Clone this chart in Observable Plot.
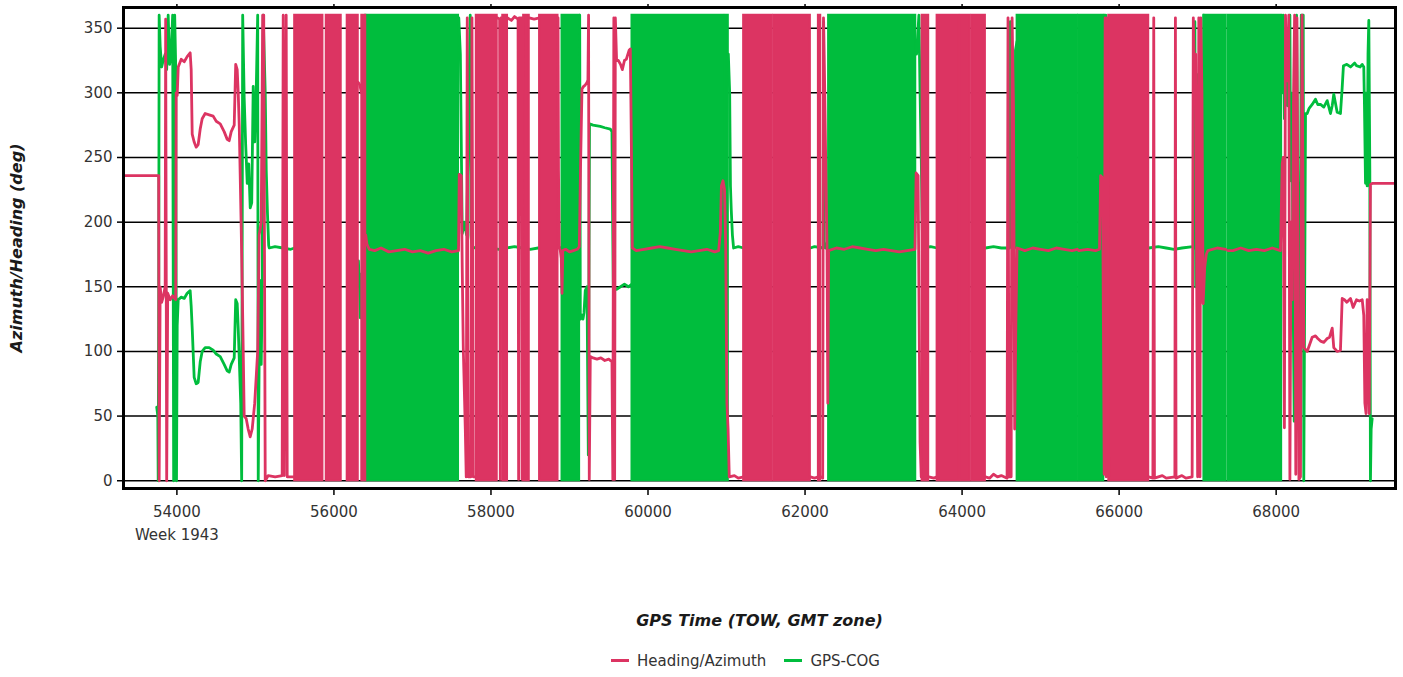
<!DOCTYPE html>
<html><head><meta charset="utf-8">
<script src="https://cdn.jsdelivr.net/npm/d3@7"></script>
<script src="https://cdn.jsdelivr.net/npm/@observablehq/plot@0.6"></script>
<style>
body{margin:0;background:#fff;font-family:"DejaVu Sans",sans-serif;}
#chart svg{display:block;}
g[aria-label="x-axis label"] text, g[aria-label="y-axis label"] text{font-weight:bold;font-style:italic;font-size:16px;fill:#1a1a1a;}
.legend{display:flex;justify-content:center;gap:18px;margin-top:11px;height:20px;line-height:20px;font-size:15px;color:#333;padding-left:88px;}
.legend .sw{display:inline-block;width:18px;height:3px;vertical-align:middle;margin-right:8px;position:relative;top:-1px;}
</style></head>
<body><div id="chart"></div><div class="legend" id="legend"></div>
<script>
const seriesNames = ["Heading/Azimuth", "GPS-COG"];
const seriesColors = ["#dc3462", "#00bd3d"];
const xTicks = [54000, 56000, 58000, 60000, 62000, 64000, 66000, 68000];
const xTickLabels = ["54000", "56000", "58000", "60000", "62000", "64000", "66000", "68000"];
const weekLabel = [[54000, "Week 1943"]];
const yTicks = [0, 50, 100, 150, 200, 250, 300, 350];
const xDomain = [53320, 69520];
const yDomain = [-6, 366];
const wrapRange = [0, 360];

// dense 0/360 oscillation intervals [start, end] (TOW s)
const headingBlocks = [[55500,55860],[55902,56093],[56169,56310],[56355,56405],[57813,58080],[58150,58211],[58416,58488],[58619,58854],[61218,61580],[61600,62068],[62170,62200],[63491,63575],[63682,63957],[63979,64106],[64128,64297],[65868,66377]];
const cogBlocks = [[56405,57587],[58905,59129],[59796,60963],[60985,61023],[62300,63410],[64701,65469],[65486,65805],[67080,67360],[67385,68070]];

// [TOW, deg]; null = gap
const heading = [
[53320,236],[53768,236],[53774,0],[53787,150],[53806,138],[53825,142],[53851,150],[53857,357],[53870,0],[53883,145],[53915,140],[53946,143],[53985,140],[53991,300],[54004,298],[54017,320],[54055,326],[54093,324],[54131,328],[54169,331],[54182,318],[54195,268],[54220,262],[54246,258],[54271,260],[54297,272],[54322,280],[54360,284],[54411,283],[54462,282],[54501,278],[54552,276],[54602,270],[54641,264],[54666,263],[54692,270],[54730,275],[54749,322],[54768,318],[54781,300],[54794,275],[54806,237],[54819,196],[54832,150],[54845,100],[54857,50],[54883,48],[54908,40],[54934,34],[54959,40],[54991,60],[55029,100],[55048,190],[55074,200],[55093,360],[55106,360],[55125,0],[55163,4],[55252,3],[55341,4],[55354,360],[55367,4],[55392,360],[55405,3],[55500,3],[55501,null],
[56310,308],[56330,306],[56350,300],[56352,null],
[56405,190],[56420,183],[56450,179],[56520,178],[56600,180],[56700,177],[56800,178],[56900,179],[57000,177],[57100,178],[57200,176],[57300,178],[57400,179],[57500,177],[57587,178],[57596,237],[57622,236],[57634,165],[57647,104],[57673,40],[57685,3],[57698,358],[57711,3],[57745,3],[57758,358],[57775,3],[57812,3],[57813,null],
[58080,358],[58110,357],[58119,1],[58128,358],[58149,358],[58150,null],
[58211,358],[58260,356],[58300,359],[58345,357],[58352,1],[58360,358],[58390,358],[58396,1],[58404,358],[58415,358],[58416,null],
[58488,358],[58550,357],[58618,358],[58619,null],
[58854,358],[58860,240],[58870,180],[58883,178],[58895,172],[58905,145],[58915,178],[58950,179],[59000,177],[59050,178],[59100,179],[59125,181],[59140,240],[59159,303],[59180,305],[59201,306],[59223,308],[59235,310],[59243,360],[59252,1],[59265,96],[59300,95],[59350,94],[59400,95],[59450,93],[59500,94],[59541,92],[59552,1],[59565,358],[59575,1],[59584,358],[59600,325],[59622,325],[59650,322],[59673,318],[59700,325],[59724,326],[59760,333],[59775,334],[59790,250],[59800,180],[59850,178],[59950,179],[60050,180],[60150,181],[60250,180],[60350,179],[60450,178],[60550,177],[60650,178],[60750,179],[60850,177],[60900,178],[60921,192],[60935,228],[60955,232],[60975,225],[60990,180],[61005,60],[61020,40],[61035,3],[61100,4],[61150,2],[61217,3],[61218,null],
[62068,3],[62120,2],[62169,3],[62170,null],
[62200,3],[62225,2],[62235,358],[62250,305],[62265,240],[62280,180],[62290,60],[62300,178],[62400,180],[62500,179],[62600,181],[62700,180],[62800,179],[62900,178],[63000,179],[63100,178],[63200,177],[63300,178],[63400,179],[63415,238],[63440,236],[63450,150],[63465,30],[63480,3],[63490,3],[63491,null],
[63575,3],[63640,2],[63681,3],[63682,null],
[64297,3],[64350,2],[64400,5],[64450,3],[64500,4],[64573,2],[64585,358],[64597,3],[64625,3],[64637,358],[64655,290],[64670,40],[64685,120],[64700,180],[64800,178],[64900,180],[65000,179],[65100,178],[65200,180],[65300,179],[65400,178],[65468,179],[65477,null],[65486,178],[65600,179],[65700,178],[65750,179],[65765,236],[65790,234],[65800,120],[65810,5],[65822,358],[65835,3],[65850,358],[65867,3],[65868,null],
[66377,3],[66430,2],[66441,358],[66450,2],[66550,4],[66600,2],[66710,3],[66717,358],[66725,2],[66800,4],[66850,2],[66930,3],[66945,358],[66960,310],[66975,330],[66990,134],[67000,3],[67015,358],[67030,3],[67040,358],[67055,300],[67070,137],[67090,165],[67110,175],[67130,178],[67250,180],[67359,179],[67372,null],[67385,178],[67450,178],[67550,180],[67650,178],[67750,179],[67850,178],[67950,180],[68055,178],[68077,245],[68090,250],[68105,41],[68119,360],[68135,320],[68150,309],[68161,360],[68175,1],[68190,200],[68205,140],[68220,290],[68235,360],[68250,5],[68265,358],[68290,1],[68310,3],[68330,360],[68352,103],[68395,100],[68430,106],[68459,111],[68501,112],[68530,110],[68565,108],[68607,107],[68650,110],[68680,111],[68714,118],[68734,103],[68777,100],[68819,101],[68841,141],[68870,140],[68900,138],[68947,141],[68980,134],[69023,140],[69060,139],[69096,140],[69116,128],[69130,60],[69145,52],[69159,140],[69170,90],[69185,52],[69201,229],[69223,230],[69520,230]
];

const cog = [
[53743,57],[53757,50],[53762,0],[53769,150],[53774,360],[53787,336],[53806,320],[53825,325],[53851,330],[53870,318],[53889,360],[53908,322],[53927,330],[53946,360],[53959,0],[53972,360],[53985,320],[53995,0],[54004,120],[54017,140],[54055,142],[54093,141],[54131,145],[54169,147],[54182,135],[54195,118],[54220,80],[54246,75],[54271,76],[54297,92],[54322,100],[54360,103],[54411,103],[54462,101],[54501,98],[54552,96],[54602,90],[54641,85],[54666,84],[54692,90],[54730,95],[54749,140],[54768,137],[54781,118],[54794,95],[54813,60],[54825,0],[54838,360],[54857,296],[54876,260],[54896,230],[54915,245],[54934,211],[54953,215],[54972,305],[54991,262],[55010,300],[55029,360],[55036,0],[55055,155],[55074,90],[55087,150],[55099,360],[55125,300],[55138,240],[55154,206],[55169,182],[55176,180],[55250,181],[55350,180],[55450,179],[55499,180],[55500,null],
[56312,170],[56325,150],[56335,126],[56345,130],[56352,160],[56353,null],
[57590,358],[57610,330],[57634,191],[57660,200],[57690,190],[57720,300],[57736,360],[57745,190],[57760,180],[57900,181],[58000,180],[58100,179],[58200,180],[58300,181],[58400,180],[58500,179],[58600,180],[58700,180],[58800,181],[58904,180],[58905,null],
[59130,360],[59138,125],[59159,128],[59172,125],[59185,130],[59201,147],[59223,150],[59240,20],[59255,276],[59300,275],[59392,274],[59450,273],[59520,272],[59541,270],[59550,200],[59558,150],[59600,148],[59650,150],[59700,152],[59750,150],[59795,152],[59796,null],
[61023,330],[61040,300],[61050,228],[61060,210],[61075,190],[61090,180],[61150,181],[61217,180],[61218,null],
[62068,180],[62120,181],[62230,180],[62237,355],[62245,185],[62260,180],[62299,180],[62300,null],
[63420,330],[63450,360],[63465,300],[63480,250],[63495,190],[63510,180],[63600,181],[63681,180],[63682,null],
[64297,180],[64400,181],[64500,180],[64605,180],[64615,355],[64625,185],[64670,180],[64680,333],[64700,340],[64701,null],
[65810,360],[65820,15],[65830,360],[65845,210],[65860,180],[65867,180],[65868,null],
[66377,180],[66500,181],[66600,180],[66700,179],[66800,180],[66940,181],[66955,180],[66965,355],[66975,150],[67000,314],[67020,180],[67040,150],[67060,200],[67079,360],[67080,null],
[68080,300],[68090,360],[68105,280],[68125,330],[68145,290],[68175,360],[68183,232],[68195,300],[68204,276],[68215,150],[68230,46],[68245,280],[68260,360],[68280,200],[68300,33],[68320,360],[68345,360],[68352,0],[68374,284],[68395,284],[68420,288],[68459,291],[68501,295],[68530,291],[68565,291],[68607,289],[68650,294],[68692,284],[68714,290],[68734,299],[68777,285],[68819,284],[68841,304],[68857,321],[68900,322],[68947,320],[69000,323],[69023,321],[69070,320],[69096,322],[69116,320],[69125,289],[69138,230],[69150,300],[69159,228],[69170,330],[69180,356],[69193,240],[69201,0],[69210,40],[69223,48]
];

const [pink, green] = seriesColors;
const blockMarks = (blocks, color) => Plot.rect(blocks, {
  x1: d => d[0], x2: d => d[1], y1: () => wrapRange[0], y2: () => wrapRange[1],
  fill: color, stroke: color, strokeWidth: 2
});
const lineMark = (pts, color) => Plot.line(pts, {x: d => d[0], y: d => d[1], stroke: color, strokeWidth: 2.8, strokeLinejoin: "round"});

const chart = Plot.plot({
  width: 1403, height: 640,
  marginTop: 7, marginLeft: 123, marginRight: 8, marginBottom: 152,
  x: {domain: xDomain},
  y: {domain: yDomain},
  style: {fontFamily: "DejaVu Sans", fontSize: "15px", color: "#333", background: "#fff", overflow: "visible"},
  marks: [
    Plot.gridY(yTicks, {stroke: "#000", strokeOpacity: 1, strokeWidth: 1.5}),
    blockMarks(cogBlocks, green),
    lineMark(cog, green),
    blockMarks(headingBlocks, pink),
    lineMark(heading, pink),
    Plot.frame({stroke: "#000", strokeWidth: 3}),
    Plot.axisY(yTicks, {anchor: "left", tickSize: 6, tickPadding: 5, stroke: "#000", strokeWidth: 1.5,
      label: "Azimuth/Heading (deg)", labelAnchor: "center", labelOffset: 113, labelArrow: false}),
    Plot.axisX(xTicks, {anchor: "bottom", tickSize: 7, tickPadding: 11, stroke: "#000", strokeWidth: 1.5,
      tickFormat: d => xTickLabels[xTicks.indexOf(d)],
      label: "GPS Time (TOW, GMT zone)", labelAnchor: "center", labelOffset: 137, labelArrow: false}),
    Plot.axisX(xTicks, {anchor: "top", tickSize: 4, stroke: "#000", strokeWidth: 1.5, tickFormat: () => "", label: null}),
    Plot.text(weekLabel, {x: d => d[0], text: d => d[1], frameAnchor: "bottom", dy: 51, fill: "#333"})
  ]
});
document.getElementById("chart").appendChild(chart);

const legend = document.getElementById("legend");
seriesNames.forEach((name, i) => {
  const item = document.createElement("span");
  const sw = document.createElement("span");
  sw.className = "sw";
  sw.style.background = seriesColors[i];
  item.appendChild(sw);
  item.appendChild(document.createTextNode(name));
  legend.appendChild(item);
});
</script>
</body></html>
